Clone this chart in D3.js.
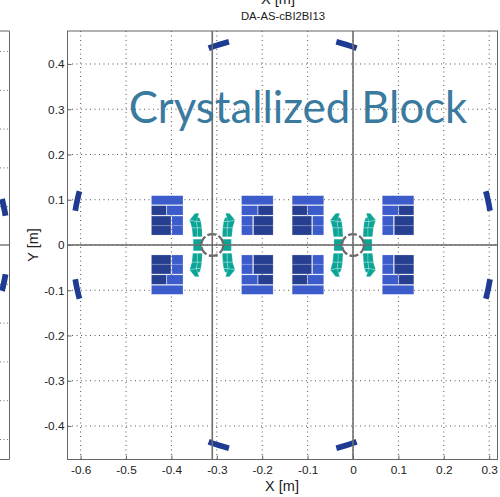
<!DOCTYPE html>
<html>
<head>
<meta charset="utf-8">
<script src="https://cdn.jsdelivr.net/npm/d3@7"></script>
<style>
  body { margin: 0; background: #fff; }
  text { font-family: "Liberation Sans", Arial, sans-serif; fill: #222; }
</style>
</head>
<body>
<svg id="chart" width="500" height="497"></svg>
<script>
// tick values of the main panel and of the cut off panel on the left
var xTicks = [-0.6, -0.5, -0.4, -0.3, -0.2, -0.1, 0, 0.1, 0.2, 0.3];
var yTicks = [-0.4, -0.3, -0.2, -0.1, 0, 0.1, 0.2, 0.3, 0.4];
var leftTicks = [-0.5, -0.4, -0.3, -0.2, -0.1, 0, 0.1, 0.2, 0.3, 0.4, 0.5];

// aperture centres [m]
var apertures = [-0.31, 0];
var ringCentre = -0.155;
var ringRadius = 0.463;
var ringWidth = 0.0125;
// iron ring pieces, start/end angle from the x axis [deg]
var ringPieces = [[9.4, 14.8], [69.4, 75.2]];

// outer blue blocks: dx0, dx1, dy0, dy1 from aperture centre [m]
var darkCables = [
  [0.091, 0.134, 0.022, 0.0425],
  [0.091, 0.134, 0.0425, 0.064],
  [0.101, 0.134, 0.066, 0.087]
];
var lightCables = [
  [0.0645, 0.089, 0.022, 0.0425],
  [0.0645, 0.089, 0.0425, 0.064],
  [0.0645, 0.1, 0.066, 0.087],
  [0.0645, 0.134, 0.089, 0.109]
];

// inner teal blocks, quarter of a coil, corner points dx,dy [mm]
var tealCables = [
  [[22, 18], [33, 18], [33, 38], [23, 38]],
  [[33, 18], [43, 18], [45, 38], [33, 38]],
  [[23, 38], [33, 38], [35, 52], [25, 52]],
  [[33, 38], [45, 38], [50, 55], [35, 52]],
  [[25, 52], [35, 52], [35, 62], [28, 60]],
  [[35, 52], [50, 55], [38, 70], [29, 70]]
];
var tealMidplane = [[23, 0], [42, 0], [42, 13], [23, 13]];

var svg = d3.select("#chart");

var left = 67.5, right = 497.5, top_ = 31, bottom = 459.5;
var x = d3.scaleLinear().domain([-0.6289, 0.3183]).range([left, right]);
var y = d3.scaleLinear().domain([0.4729, -0.474]).range([top_, bottom]);
// left panel, only its right edge is on the page
var yLeft = d3.scaleLinear().domain([0.5515, -0.5528]).range([31, 459.5]);
var leftEdge = 9.5;

var gridColor = "#555";
var frameColor = "#666";

// left panel
var gl = svg.append("g");
gl.selectAll("line.tick").data(leftTicks.filter(function(d) { return d != 0; }))
  .enter().append("line")
  .attr("x1", 0).attr("x2", leftEdge)
  .attr("y1", function(d) { return yLeft(d) + 0.5; })
  .attr("y2", function(d) { return yLeft(d) + 0.5; })
  .attr("stroke", "#777").attr("stroke-dasharray", "1,2.5");

// main panel grid
var g = svg.append("g");
g.selectAll("line.gx").data(xTicks).enter().append("line")
  .attr("x1", function(d) { return x(d); }).attr("x2", function(d) { return x(d); })
  .attr("y1", top_).attr("y2", bottom)
  .attr("stroke", gridColor).attr("stroke-width", 1).attr("stroke-dasharray", "1,3.5");
g.selectAll("line.gy").data(yTicks).enter().append("line")
  .attr("x1", left).attr("x2", right)
  .attr("y1", function(d) { return y(d); }).attr("y2", function(d) { return y(d); })
  .attr("stroke", gridColor).attr("stroke-width", 1).attr("stroke-dasharray", "1,3.5");

// axes
var xAxis = d3.axisBottom(x).tickValues(xTicks).tickSize(-4).tickPadding(6)
  .tickFormat(function(d) { return String(d); });
var yAxis = d3.axisLeft(y).tickValues(yTicks).tickSize(-4).tickPadding(3)
  .tickFormat(function(d) { return String(d); });

var ax = svg.append("g").attr("transform", "translate(0," + bottom + ")").call(xAxis);
var ay = svg.append("g").attr("transform", "translate(" + left + ",0)").call(yAxis);
[ax, ay].forEach(function(a) {
  a.select(".domain").remove();
  a.selectAll("line").attr("stroke", frameColor);
  a.selectAll("text").style("font-size", "11.8px").style("fill", "#222");
});

// big label sits under the beam lines
svg.append("text")
  .attr("x", 298).attr("y", 123)
  .attr("text-anchor", "middle")
  .style("font-family", "Lato, 'Open Sans', sans-serif")
  .style("font-size", "43.7px")
  .style("fill", "#3A7A9E")
  .text("Crystallized Block");

// iron ring
var signs = [[1, 1], [1, -1], [-1, 1], [-1, -1]];
function ringPiece(gr, pxPerM, width, cxPx, cyPx, a, sx, sy) {
  var r0 = (ringRadius - width / 2) * pxPerM, r1 = (ringRadius + width / 2) * pxPerM;
  var pts = [];
  d3.range(0, 5).forEach(function(i) {
    var t = (a[0] + (a[1] - a[0]) * i / 4) * Math.PI / 180;
    pts.push([cxPx + sx * r0 * Math.cos(t), cyPx - sy * r0 * Math.sin(t)]);
  });
  d3.range(4, -1, -1).forEach(function(i) {
    var t = (a[0] + (a[1] - a[0]) * i / 4) * Math.PI / 180;
    pts.push([cxPx + sx * r1 * Math.cos(t), cyPx - sy * r1 * Math.sin(t)]);
  });
  gr.append("path").attr("d", "M" + pts.join("L") + "Z").attr("fill", "#1F3B91");
}
var pxX = x(1) - x(0);
ringPieces.forEach(function(a) {
  signs.forEach(function(s) {
    ringPiece(g, pxX, ringWidth, x(ringCentre), y(0), a, s[0], s[1]);
  });
});
// the pieces of the neighbour panel
signs.slice(0, 2).forEach(function(s) {
  ringPiece(gl, yLeft(0) - yLeft(1), 0.015, 4 - (yLeft(0) - yLeft(ringRadius)) * Math.cos(12 * Math.PI / 180), yLeft(0), ringPieces[0], s[0], s[1]);
});

// coils
apertures.forEach(function(c) {
  signs.forEach(function(s) {
    function box(list, color) {
      g.selectAll(null).data(list).enter().append("rect")
        .attr("x", function(d) { return Math.min(x(c + s[0] * d[0]), x(c + s[0] * d[1])); })
        .attr("y", function(d) { return Math.min(y(s[1] * d[2]), y(s[1] * d[3])); })
        .attr("width", function(d) { return Math.abs(x(d[1]) - x(d[0])); })
        .attr("height", function(d) { return Math.abs(y(d[3]) - y(d[2])); })
        .attr("fill", color)
        .attr("stroke", "#fff").attr("stroke-opacity", 0.35).attr("stroke-width", 0.6);
    }
    box(darkCables, "#263F90");
    box(lightCables, "#3D5CCB");

    function poly(p) {
      return "M" + p.map(function(q) {
        return [x(c + s[0] * q[0] / 1000), y(s[1] * q[1] / 1000)];
      }).join("L") + "Z";
    }
    g.selectAll(null).data(tealCables.concat([tealMidplane])).enter().append("path")
      .attr("d", poly)
      .attr("fill", "#0BA597")
      .attr("stroke", "#fff").attr("stroke-opacity", 0.4).attr("stroke-width", 0.6);
  });

  // beam pipe
  g.append("circle")
    .attr("cx", x(c)).attr("cy", y(0)).attr("r", x(0.024) - x(0))
    .attr("fill", "none").attr("stroke", "#6a6a6a").attr("stroke-width", 2.2)
    .attr("stroke-dasharray", "9,2.5");
});

// beam lines and midplane
apertures.forEach(function(c) {
  g.append("line")
    .attr("x1", x(c)).attr("x2", x(c)).attr("y1", top_).attr("y2", bottom)
    .attr("stroke", "#6e6e6e").attr("stroke-width", 1.6);
});
g.append("line").attr("x1", left).attr("x2", right).attr("y1", y(0)).attr("y2", y(0))
  .attr("stroke", "#666").attr("stroke-width", 1.3);
gl.append("line").attr("x1", 0).attr("x2", leftEdge).attr("y1", y(0)).attr("y2", y(0))
  .attr("stroke", "#666").attr("stroke-width", 1.3);

// frames
svg.append("rect").attr("x", left).attr("y", top_)
  .attr("width", right - left).attr("height", bottom - top_)
  .attr("fill", "none").attr("stroke", frameColor).attr("stroke-width", 1);
svg.append("line").attr("x1", 0).attr("x2", leftEdge).attr("y1", top_).attr("y2", top_).attr("stroke", frameColor);
svg.append("line").attr("x1", 0).attr("x2", leftEdge).attr("y1", bottom).attr("y2", bottom).attr("stroke", frameColor);
svg.append("line").attr("x1", leftEdge).attr("x2", leftEdge).attr("y1", top_).attr("y2", bottom).attr("stroke", frameColor);

// labels
svg.append("text").attr("x", 278).attr("y", 4).attr("text-anchor", "middle")
  .style("font-size", "14.5px").text("X [m]");
svg.append("text").attr("x", 283).attr("y", 20).attr("text-anchor", "middle")
  .style("font-size", "11.3px").text("DA-AS-cBI2BI13");
svg.append("text").attr("x", 282).attr("y", 491).attr("text-anchor", "middle")
  .style("font-size", "14.5px").text("X [m]");
svg.append("text").attr("transform", "translate(38,245) rotate(-90)").attr("text-anchor", "middle")
  .style("font-size", "14.5px").text("Y [m]");
</script>
</body>
</html>
